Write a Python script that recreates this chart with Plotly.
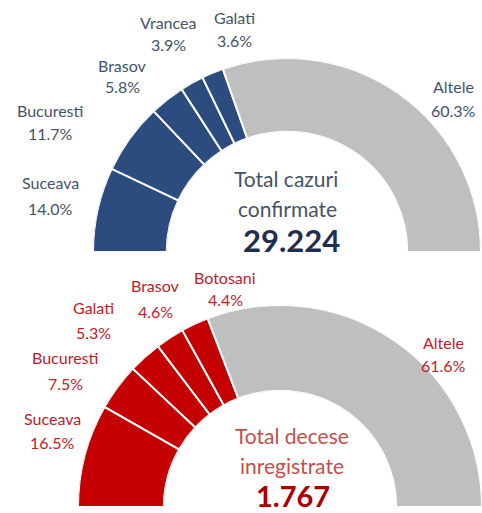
import plotly.graph_objects as go

# Confirmed cases by county (share of total, %)
cases_regions = ["Suceava", "Bucuresti", "Brasov", "Vrancea", "Galati", "Altele"]
cases_share = [14.0, 11.7, 5.8, 3.9, 3.6, 60.3]
cases_total = "29.224"

# Registered deaths by county (share of total, %)
deaths_regions = ["Suceava", "Bucuresti", "Galati", "Brasov", "Botosani", "Altele"]
deaths_share = [16.5, 7.5, 5.3, 4.6, 4.4, 61.6]
deaths_total = "1.767"

W, H = 482, 513
FONT = "Lato"

BLUE = "#2c4b7f"
RED = "#c40000"
GREY = "#bfbfbf"


def px(x, y):
    """Pixel position (from top-left) to paper coordinates."""
    return x / W, 1 - y / H


def arc(values, color):
    """Half-donut segments: angles are shares of a 180 degree sweep."""
    total = sum(values)
    widths = [v * 180.0 / total for v in values]
    centers, acc = [], 0.0
    for w in widths:
        centers.append(acc + w / 2)
        acc += w
    colors = [color] * (len(values) - 1) + [GREY]
    return centers, widths, colors


fig = go.Figure()

for name, regions, share, color in [
    ("polar", cases_regions, cases_share, BLUE),
    ("polar2", deaths_regions, deaths_share, RED),
]:
    theta, width, colors = arc(share, color)
    fig.add_trace(go.Barpolar(
        r=[1] * len(share), theta=theta, width=width, base=0,
        marker=dict(color=colors, line=dict(color="white", width=2)),
        text=regions, hoverinfo="text", subplot=name, showlegend=False,
    ))


def polar_layout(x0, x1, y_top, y_base, hole):
    xa, _ = px(x0, 0)
    xb, _ = px(x1, 0)
    _, ya = px(0, y_base)
    _, yb = px(0, y_top)
    return dict(
        domain=dict(x=[xa, xb], y=[max(ya, 0), min(yb, 1)]),
        sector=[0, 180], hole=hole, bgcolor="rgba(0,0,0,0)",
        radialaxis=dict(range=[0, 1], visible=False),
        angularaxis=dict(direction="clockwise", rotation=180, visible=False,
                         showgrid=False, showline=False, showticklabels=False),
    )


fig.update_layout(
    width=W, height=H, margin=dict(l=0, r=0, t=0, b=0),
    paper_bgcolor="white", plot_bgcolor="white",
    polar=polar_layout(93, 481, 58, 252, 0.62),
    polar2=polar_layout(78, 482, 305, 507, 0.575),
    font=dict(family=FONT),
)

annotations = []


def text(x, y, s, size, color, bold=False):
    ax, ay = px(x, y)
    annotations.append(dict(
        x=ax, y=ay, xref="paper", yref="paper", xanchor="center", yanchor="middle",
        text=f"<b>{s}</b>" if bold else s, showarrow=False,
        font=dict(family=FONT, size=size, color=color),
    ))


# Label placement (x, y of name line, y of percent line)
cases_label_pos = [(50, 183, 208), (50, 110, 133), (122, 65, 87),
                   (168, 22, 44), (234, 17, 40), (453, 86, 110)]
deaths_label_pos = [(52, 418, 442), (65, 357, 383), (93, 307, 332),
                    (155, 285, 311), (225, 277, 299), (443, 342, 365)]

for regions, share, pos, col in [
    (cases_regions, cases_share, cases_label_pos, "#44546a"),
    (deaths_regions, deaths_share, deaths_label_pos, "#c0202a"),
]:
    for reg, v, (x, y1, y2) in zip(regions, share, pos):
        text(x, y1, reg, 16, col)
        text(x, y2, f"{v:.1f}%", 16, col)

# Centre captions
text(286, 179, "Total cazuri", 21, "#44546a")
text(287, 208, "confirmate", 21, "#44546a")
text(291, 240, cases_total, 31, "#1f2d4e", bold=True)

text(292, 435, "Total decese", 21, "#c0504d")
text(292, 465, "inregistrate", 21, "#c0504d")
text(293, 495, deaths_total, 29, "#a80000", bold=True)

fig.update_layout(annotations=annotations)

fig.write_html("out.html")
